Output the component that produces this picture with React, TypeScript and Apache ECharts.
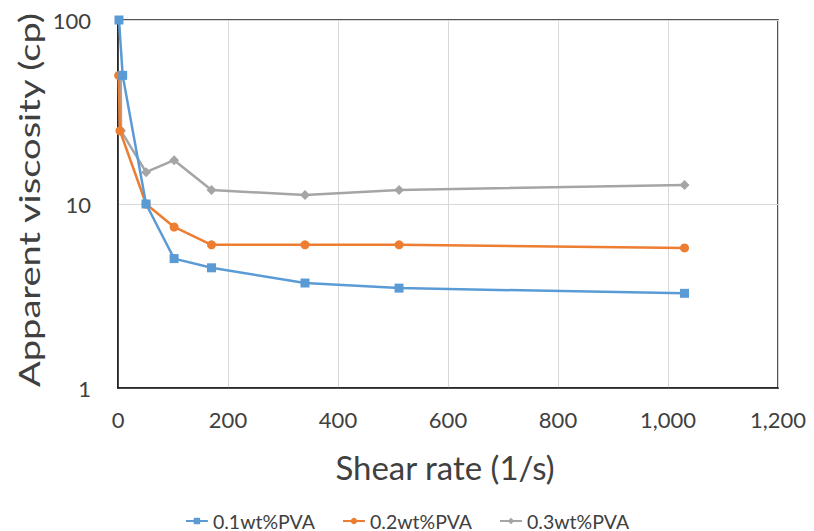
import React, { useEffect, useRef } from "react";
import * as echarts from "echarts";

const seriesNames = ["0.1wt%PVA", "0.2wt%PVA", "0.3wt%PVA"];
const blueData: [number, number][] = [[1.8, 100], [8.5, 50], [51, 10], [102, 5.05], [170, 4.5], [340, 3.72], [511, 3.49], [1030, 3.27]];
const orangeData: [number, number][] = [[1.2, 50], [3.5, 25], [51, 10], [102, 7.5], [170, 6.0], [340, 6.0], [511, 6.0], [1030, 5.77]];
const grayData: [number, number][] = [[5, 50], [5.5, 25], [51, 14.9], [102, 17.3], [170, 11.9], [340, 11.2], [511, 11.9], [1030, 12.7]];
const colors = ["#5B9BD5", "#ED7D31", "#A5A5A5"];
const symbols = ["rect", "circle", "diamond"];
const xTitle = "Shear rate (1/s)";
const yTitle = "Apparent viscosity (cp)";

const FONT = "Lato, 'Open Sans', sans-serif";
const TEXT = "#404040";

export default function App() {
  const ref = useRef<HTMLDivElement>(null);
  useEffect(() => {
    if (!ref.current) return;
    document.body.style.margin = "0";
    document.body.style.overflow = "hidden";
    const chart = echarts.init(ref.current, undefined, { renderer: "svg" });
    const datas = [blueData, orangeData, grayData];
    chart.setOption({
      animation: false,
      textStyle: { fontFamily: FONT },
      grid: {
        left: 118,
        right: 36,
        top: 20,
        bottom: 143,
        show: true,
        borderColor: "#1a1a1a",
        borderWidth: 1.5,
      },
      legend: {
        top: 506,
        left: "center",
        itemWidth: 22,
        itemHeight: 8,
        itemGap: 27,
        textStyle: { fontSize: 19.5, color: TEXT, fontFamily: FONT },
        data: seriesNames,
      },
      graphic: [
        {
          type: "text",
          x: 445,
          y: 467,
          style: {
            text: xTitle,
            fontSize: 33,
            fontFamily: FONT,
            fill: TEXT,
            align: "center",
            verticalAlign: "middle",
          },
        },
        {
          type: "text",
          x: 29,
          y: 200,
          rotation: Math.PI / 2,
          scaleX: 1.36,
          style: {
            text: yTitle,
            fontSize: 28,
            fontFamily: FONT,
            fill: TEXT,
            align: "center",
            verticalAlign: "middle",
          },
        },
      ],
      xAxis: {
        type: "value",
        min: 0,
        max: 1200,
        interval: 200,
        axisLine: { show: true, lineStyle: { color: "#1a1a1a", width: 1.5 } },
        axisTick: { show: false },
        axisLabel: {
          fontSize: 22,
          color: TEXT,
          margin: 20,
          formatter: (v: number) => v.toLocaleString("en-US"),
        },
        splitLine: { show: true, lineStyle: { color: "#d9d9d9", width: 1 } },
      },
      yAxis: {
        type: "log",
        logBase: 10,
        min: 1,
        max: 100,
        axisLine: { show: true, lineStyle: { color: "#1a1a1a", width: 1.5 } },
        axisTick: { show: false },
        axisLabel: { fontSize: 22, color: TEXT, margin: 27 },
        splitLine: { show: true, lineStyle: { color: "#d9d9d9", width: 1 } },
      },
      series: seriesNames.map((name, i) => ({
        name,
        type: "line",
        data: datas[i],
        symbol: symbols[i],
        symbolSize: i === 2 ? 10 : 9,
        lineStyle: { color: colors[i], width: 2.5 },
        itemStyle: { color: colors[i] },
        z: 3 - i,
      })),
    });
    return () => chart.dispose();
  }, []);
  return <div ref={ref} style={{ width: 814, height: 531 }} />;
}
